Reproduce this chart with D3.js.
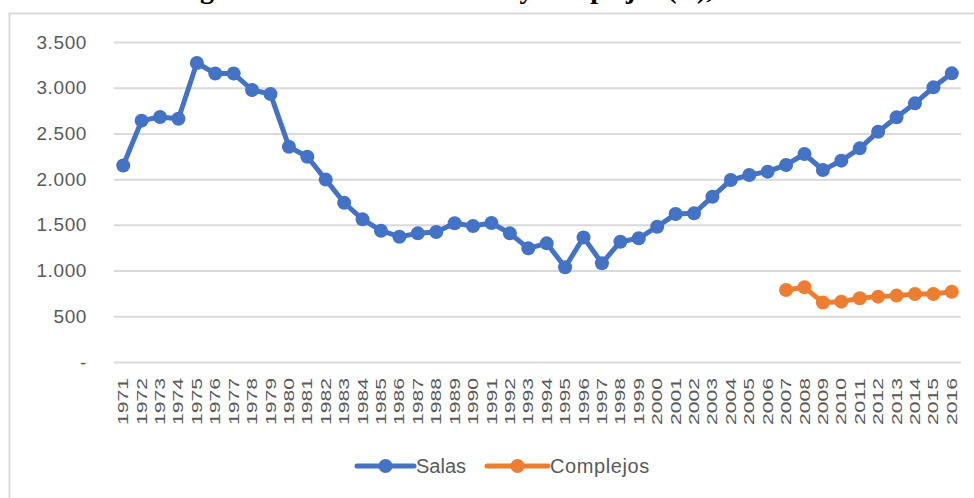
<!DOCTYPE html>
<html>
<head>
<meta charset="utf-8">
<script src="https://cdn.jsdelivr.net/npm/d3@7"></script>
<style>
  html, body { margin: 0; padding: 0; background: #fff; }
  svg { display: block; }
</style>
</head>
<body>
<svg id="chart" width="974" height="498"></svg>
<script>
// ---- data ----
const years = d3.range(1971, 2017).map(String);
const salas = [
  2150, 2640, 2680, 2660, 3270, 3155, 3155, 2975, 2930, 2355,
  2245, 1995, 1742, 1560, 1436, 1370, 1407, 1422, 1517, 1487,
  1520, 1407, 1243, 1298, 1036, 1363, 1080, 1316, 1353, 1480,
  1618, 1626, 1808, 1990, 2045, 2082, 2155, 2275, 2100, 2202,
  2337, 2519, 2676, 2829, 3004, 3157
];
const complejosYears = ["2007","2008","2009","2010","2011","2012","2013","2014","2015","2016"];
const complejos = [787, 817, 650, 660, 697, 715, 726, 744, 744, 769];
const yTicks = [0, 500, 1000, 1500, 2000, 2500, 3000, 3500];
const seriesNames = ["Salas", "Complejos"];
const colors = ["#4472C4", "#ED7D31"];
const title = "Figura 3: Evolución de salas y complejos (N), 1971-2016";

// ---- setup ----
const svg = d3.select("#chart");
const W = 974, H = 498;
svg.append("rect").attr("width", W).attr("height", H).attr("fill", "#fff");

// partially visible title above the chart box (cropped in the reference)
svg.append("text")
  .attr("x", 175).attr("y", -2)
  .attr("font-family", "'Liberation Serif', 'DejaVu Serif', serif")
  .attr("font-weight", "bold")
  .attr("font-size", 28)
  .attr("fill", "#000")
  .text(title);

// chart area border
svg.append("rect")
  .attr("x", 9.5).attr("y", 13.5)
  .attr("width", 1000).attr("height", 1000)
  .attr("fill", "#fff")
  .attr("stroke", "#d9d9d9").attr("stroke-width", 2);

const x = d3.scaleBand().domain(years).range([114, 961]).padding(0);
const y = d3.scaleLinear().domain([0, 3500]).range([362, 42]);
const cx = d => x(d) + x.bandwidth() / 2;

const loc = d3.formatLocale({ decimal: ",", thousands: ".", grouping: [3], currency: ["", ""] });
const fmt = loc.format(",d");

// gridlines
const grid = svg.append("g").attr("transform", "translate(114,0)")
  .call(d3.axisLeft(y).tickValues(yTicks).tickSize(-(961 - 114)).tickFormat(""));
grid.select(".domain").remove();
grid.selectAll(".tick line").attr("stroke", "#d9d9d9").attr("stroke-width", 2);

// y axis labels
const yAxis = svg.append("g").attr("transform", "translate(95,0)")
  .call(d3.axisLeft(y).tickValues(yTicks).tickSize(0).tickPadding(8)
    .tickFormat(v => v === 0 ? "-" : fmt(v)));
yAxis.select(".domain").remove();
yAxis.selectAll("text")
  .attr("font-family", "'Liberation Sans', Arial, sans-serif")
  .attr("font-size", 19)
  .attr("letter-spacing", 0.6)
  .attr("fill", "#595959");

// x axis labels (rotated)
const xAxis = svg.append("g").attr("transform", "translate(0,362)")
  .call(d3.axisBottom(x).tickSize(0).tickPadding(0));
xAxis.select(".domain").remove();
xAxis.selectAll("text")
  .attr("font-family", "'Liberation Sans', Arial, sans-serif")
  .attr("font-size", 14)
  .attr("fill", "#595959")
  .attr("text-anchor", "end")
  .attr("transform", "translate(0,16) rotate(-90)")
  .attr("x", 0).attr("y", 0).attr("dy", "0.36em")
  .attr("textLength", 47)
  .attr("lengthAdjust", "spacingAndGlyphs");

// lines
const line = d3.line().x(d => cx(d[0])).y(d => y(d[1]));
const s1 = years.map((yr, i) => [yr, salas[i]]);
const s2 = complejosYears.map((yr, i) => [yr, complejos[i]]);
[s1, s2].forEach((s, k) => {
  svg.append("path").datum(s)
    .attr("d", line)
    .attr("fill", "none")
    .attr("stroke", colors[k])
    .attr("stroke-width", 5)
    .attr("stroke-linejoin", "round")
    .attr("stroke-linecap", "round");
  svg.append("g").selectAll("circle").data(s).join("circle")
    .attr("cx", d => cx(d[0])).attr("cy", d => y(d[1]))
    .attr("r", 7).attr("fill", colors[k]);
});

// legend
const legendItems = [
  { x1: 357, x2: 414, tx: 416 },
  { x1: 487, x2: 548, tx: 550 }
];
legendItems.forEach((it, k) => {
  const g = svg.append("g");
  g.append("line").attr("x1", it.x1).attr("x2", it.x2).attr("y1", 466).attr("y2", 466)
    .attr("stroke", colors[k]).attr("stroke-width", 5).attr("stroke-linecap", "round");
  g.append("circle").attr("cx", (it.x1 + it.x2) / 2).attr("cy", 466).attr("r", 7).attr("fill", colors[k]);
  g.append("text").attr("x", it.tx).attr("y", 473)
    .attr("font-family", "'Liberation Sans', Arial, sans-serif")
    .attr("font-size", 20)
    .attr("letter-spacing", k === 1 ? 0.6 : 0)
    .attr("fill", "#595959")
    .text(seriesNames[k]);
});
</script>
</body>
</html>
